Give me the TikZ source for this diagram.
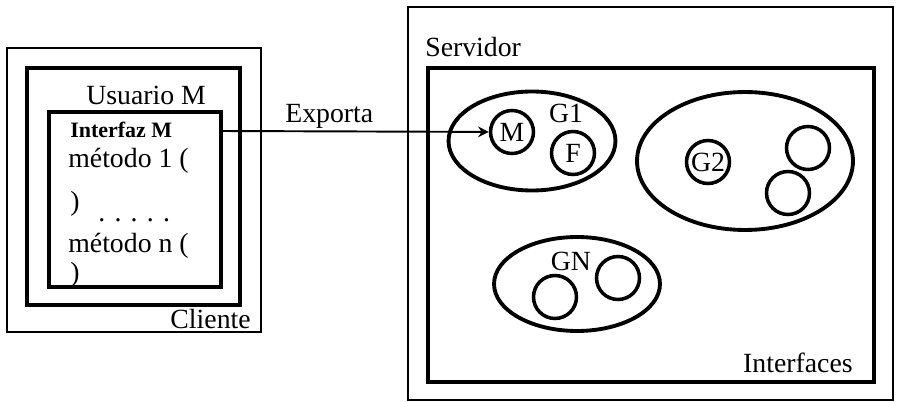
\documentclass[tikz,border=0pt]{standalone}
\usepackage{fontspec}
\setmainfont{Liberation Serif}
\usetikzlibrary{arrows.meta,shapes.geometric}

\tikzset{
  thin box/.style={line width=0.8pt},
  thick box/.style={line width=2.4pt},
  grupo/.style={draw, ellipse, line width=2.2pt, inner sep=0pt},
  obj/.style={draw, circle, line width=2pt, inner sep=0pt, minimum size=0.86cm},
  txt/.style={inner sep=0pt, font=\fontsize{15.8}{18}\selectfont},
  expo/.style={line width=1.1pt, -{Stealth[length=6pt,width=6pt]}},
}

\begin{document}
\begin{tikzpicture}[x=0.02cm, y=-0.02cm]
\useasboundingbox (0,0) rectangle (900,402);

% cliente
\draw[thin box] (7,48) rectangle (261,332);
\draw[thick box] (27,68) rectangle (240,305);
\draw[thick box] (49,112) rectangle (221,287);
\node[txt, anchor=base west] (usr) at (86,105) {Usuario M};
\node[txt, anchor=base west, font=\fontsize{12.5}{14}\selectfont\bfseries] (ifz) at (70,138) {Interfaz M};
\node[txt, anchor=base west] (met1) at (68,168) {método 1 (};
\node[txt, anchor=base west] (par1) at (70,211) {)};
\node[txt, anchor=base west] (dots) at (98,221) {. . . . .};
\node[txt, anchor=base west] (metn) at (68,253) {método n (};
\node[txt, anchor=base west] (parn) at (70,281) {)};
\node[txt, anchor=base east] (cli) at (251,328) {Cliente};

% servidor
\draw[thin box] (408,7) rectangle (893,400);
\draw[thick box] (428,68) rectangle (874,382);
\node[txt, anchor=base west] (serv) at (425,57) {Servidor};
\node[txt, anchor=base east] (intf) at (853,372) {Interfaces};

\node[grupo, minimum width=3.34cm, minimum height=1.98cm] (g1) at (532,141) {};
\node[grupo, minimum width=4.32cm, minimum height=2.76cm] (g2) at (745,161) {};
\node[grupo, minimum width=3.32cm, minimum height=1.88cm] (gn) at (577,284) {};

\node[txt, anchor=base] (g1l) at (566,123) {G1};
\node[obj, txt] (mc) at (512,132) {M};
\node[obj, txt] (fc) at (573,153) {F};

\node[obj, txt] (g2c) at (708,162) {G2};
\node[obj] (o1) at (808,148) {};
\node[obj] (o2) at (788,193) {};

\node[txt, anchor=base] (gnl) at (571,270) {GN};
\node[obj] (o3) at (555,297) {};
\node[obj] (o4) at (618,278) {};

% exporta
\coordinate (exp) at (221,131);
\draw[expo] (exp) -- (mc);
\node[txt, anchor=base west] (expl) at (285,123) {Exporta};
\end{tikzpicture}
\end{document}
